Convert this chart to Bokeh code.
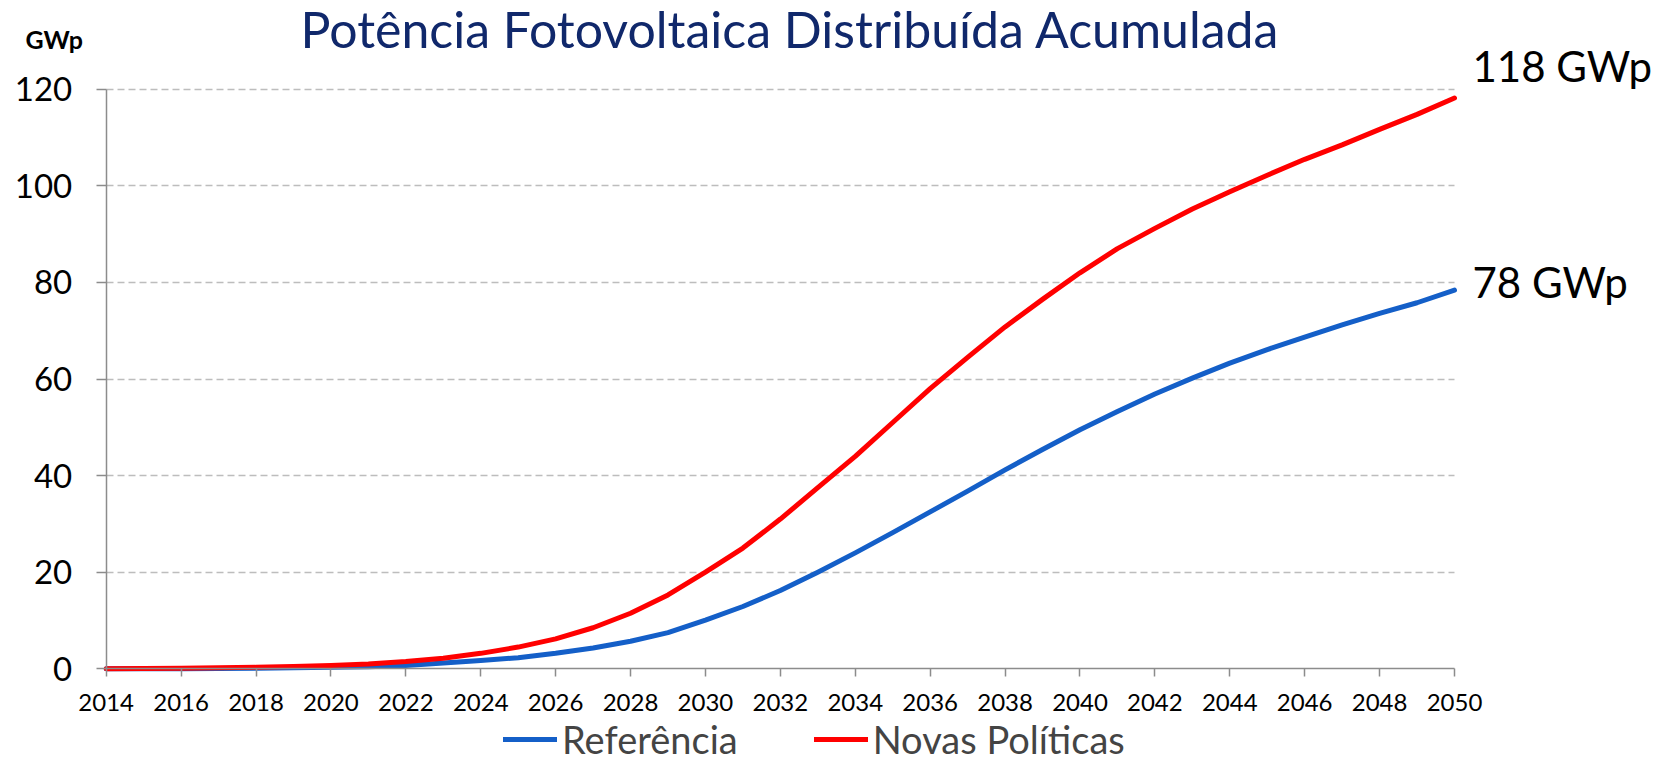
from bokeh.plotting import figure
from bokeh.models import Range1d, Label, Legend, LegendItem, FixedTicker
from bokeh.embed import file_html
from bokeh.resources import INLINE

years = list(range(2014, 2051))
referencia = [0.0, 0.0, 0.0, 0.05, 0.1, 0.2, 0.3, 0.45, 0.7, 1.2, 1.7, 2.3, 3.2, 4.3, 5.7, 7.5,
              10.1, 12.9, 16.2, 20.0, 24.0, 28.2, 32.5, 36.8, 41.2, 45.4, 49.5, 53.3, 56.9,
              60.2, 63.3, 66.1, 68.7, 71.2, 73.6, 75.8, 78.4]
novas_politicas = [0.0, 0.05, 0.1, 0.2, 0.3, 0.5, 0.7, 1.0, 1.5, 2.2, 3.2, 4.5, 6.2, 8.5, 11.5, 15.3,
                   20.0, 25.0, 31.0, 37.5, 44.0, 51.0, 58.0, 64.5, 70.8, 76.5, 82.0, 87.0, 91.2,
                   95.2, 98.8, 102.2, 105.5, 108.5, 111.7, 114.8, 118.2]
x_ticks = list(range(2014, 2051, 2))
y_ticks = [0, 20, 40, 60, 80, 100, 120]
title_text = "Potência Fotovoltaica Distribuída Acumulada"
unit_text = "GWp"
end_labels = ["78 GWp", "118 GWp"]
end_values = [78.4, 118.2]
series_names = ["Referência", "Novas Políticas"]

FONT = "Lato"
BLUE = "#145fc8"
RED = "#ff0000"
NAVY = "#10286b"
AXIS = "#8c8c8c"
GRID = "#bdbdbd"

# canvas geometry (pixels): the frame fills the canvas; axes are pinned inside it
W, H = 1658, 762
X0_PX, X1_PX = 105.7, 1454.0     # x positions of 2014 and 2050
Y0_PX, Y1_PX = 668.3, 88.8       # y positions (from top) of 0 and 120
XMIN, XMAX, YMIN, YMAX = 2014, 2050, 0, 120
kx = (X1_PX - X0_PX) / (XMAX - XMIN)
ky = (Y0_PX - Y1_PX) / (YMAX - YMIN)
x_range = Range1d(XMIN - X0_PX / kx, XMAX + (W - X1_PX) / kx)
y_range = Range1d(YMIN - (H - Y0_PX) / ky, YMAX + Y1_PX / ky)

p = figure(width=W, height=H, output_backend="svg", toolbar_location=None,
           x_range=x_range, y_range=y_range,
           min_border_left=0, min_border_right=0, min_border_top=0, min_border_bottom=0)
p.outline_line_color = None
p.background_fill_color = "white"
p.border_fill_color = "white"

# grid, limited to the 2014-2050 span
p.xgrid.grid_line_color = None
grid_ticks = y_ticks[1:]
ygrid = p.ygrid[0]
if "cross_bounds" in ygrid.properties():
    ygrid.grid_line_color = GRID
    ygrid.grid_line_dash = "7 4"
    ygrid.grid_line_width = 1.5
    ygrid.ticker = FixedTicker(ticks=grid_ticks)
    ygrid.cross_bounds = (XMIN, XMAX)
else:
    ygrid.grid_line_color = None
    p.segment(x0=[XMIN] * len(grid_ticks), y0=grid_ticks, x1=[XMAX] * len(grid_ticks), y1=grid_ticks,
              line_color=GRID, line_dash="7 4", line_width=1.5, level="underlay")

# axes pinned at data positions
p.xaxis.ticker = FixedTicker(ticks=x_ticks)
p.yaxis.ticker = FixedTicker(ticks=y_ticks)
p.xaxis.fixed_location = 0
p.yaxis.fixed_location = XMIN
p.xaxis.bounds = (XMIN, XMAX)
p.yaxis.bounds = (YMIN, YMAX)
for ax in (p.xaxis[0], p.yaxis[0]):
    ax.axis_line_color = AXIS
    ax.axis_line_width = 1.5
    ax.major_tick_line_color = AXIS
    ax.major_tick_line_width = 1.5
    ax.minor_tick_line_color = None
    ax.major_label_text_font = FONT
    ax.major_label_text_color = "black"
p.xaxis.major_tick_in = 0
p.xaxis.major_tick_out = 8
p.xaxis.major_label_text_font_size = "24px"
p.xaxis.major_label_standoff = 17
p.yaxis.major_tick_in = 0
p.yaxis.major_tick_out = 10
p.yaxis.major_label_text_font_size = "33px"
p.yaxis.major_label_standoff = 24

r_ref = p.line(years, referencia, line_color=BLUE, line_width=5, line_join="round", line_cap="round")
r_np = p.line(years, novas_politicas, line_color=RED, line_width=5, line_join="round", line_cap="round")

# title
p.add_layout(Label(x=(XMIN + XMAX) / 2, y=YMAX, x_offset=10, y_offset=60, text=title_text,
                   text_font=FONT, text_font_size="50px", text_color=NAVY,
                   text_align="center", text_baseline="middle"))
# unit label
p.add_layout(Label(x=XMIN, y=YMAX, x_offset=-52, y_offset=50, text=unit_text,
                   text_font=FONT, text_font_size="25px", text_font_style="bold",
                   text_color="black", text_align="center", text_baseline="middle"))
# end labels
for txt, val, dy in zip(end_labels, end_values, [8, 32]):
    p.add_layout(Label(x=XMAX, y=val, x_offset=18, y_offset=dy, text=txt,
                       text_font=FONT, text_font_size="42px", text_color="black",
                       text_align="left", text_baseline="middle"))

legend = Legend(items=[LegendItem(label=series_names[0], renderers=[r_ref]),
                       LegendItem(label=series_names[1], renderers=[r_np])],
                orientation="horizontal", location=(503, 0),
                label_text_font=FONT, label_text_font_size="38px",
                glyph_width=54, glyph_height=40, label_height=40, label_standoff=5, spacing=76,
                padding=0, margin=0, border_line_color=None, background_fill_alpha=0)
p.add_layout(legend, "center")

open("out.html", "w").write(file_html(p, INLINE))
